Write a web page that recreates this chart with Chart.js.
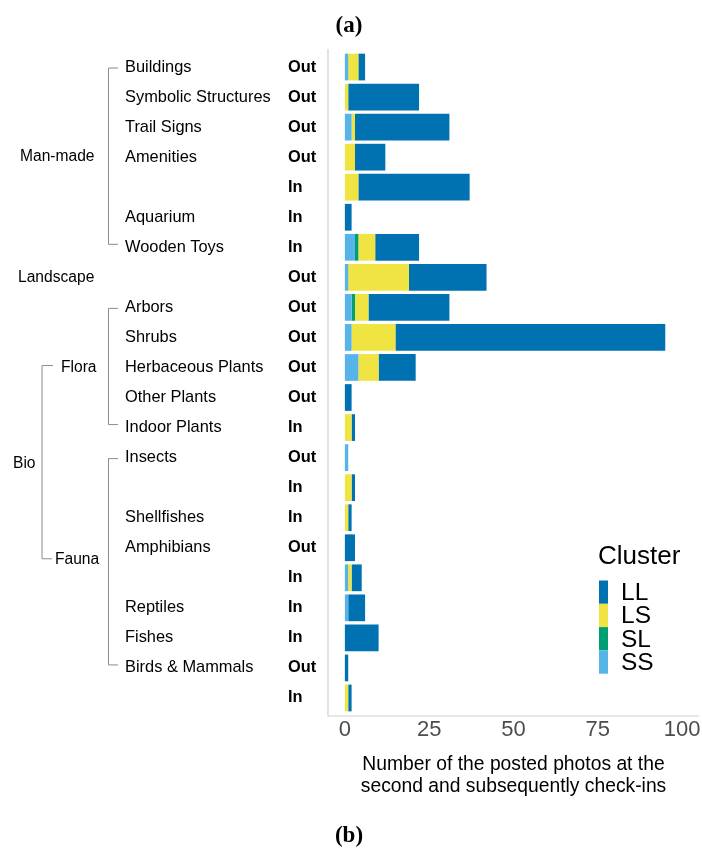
<!DOCTYPE html>
<html>
<head>
<meta charset="utf-8">
<script src="https://cdn.jsdelivr.net/npm/chart.js@4.4.1/dist/chart.umd.min.js"></script>
<style>
  html, body { margin: 0; padding: 0; background: #ffffff; }
  #wrap { position: relative; width: 702px; height: 850px; }
</style>
</head>
<body>
<div id="wrap"><canvas id="chart" width="702" height="850"></canvas></div>
<script>
// Photo subjects, one row per subject / placement pair
const subjects = ["Buildings", "Symbolic Structures", "Trail Signs", "Amenities", "", "Aquarium", "Wooden Toys",
  "", "Arbors", "Shrubs", "Herbaceous Plants", "Other Plants", "Indoor Plants",
  "Insects", "", "Shellfishes", "Amphibians", "", "Reptiles", "Fishes", "Birds & Mammals", ""];
const placement = ["Out", "Out", "Out", "Out", "In", "In", "In", "Out", "Out", "Out", "Out", "Out", "In",
  "Out", "In", "In", "Out", "In", "In", "In", "Out", "In"];
const rowKeys = subjects.map((s, i) => (s || "row" + i) + " " + placement[i]);

// Counts of posted photos per cluster
const ssValues = [1, 0, 2, 0, 0, 0, 3, 1, 2, 2, 4, 0, 0, 1, 0, 0, 0, 1, 1, 0, 0, 0];
const slValues = [0, 0, 0, 0, 0, 0, 1, 0, 1, 0, 0, 0, 0, 0, 0, 0, 0, 0, 0, 0, 0, 0];
const lsValues = [3, 1, 1, 3, 4, 0, 5, 18, 4, 13, 6, 0, 2, 0, 2, 1, 0, 1, 0, 0, 0, 1];
const llValues = [2, 21, 28, 9, 33, 2, 13, 23, 24, 80, 11, 2, 1, 0, 1, 1, 3, 3, 5, 10, 1, 1];

const xTicks = [0, 25, 50, 75, 100];
const legendOrder = ["LL", "LS", "SL", "SS"];

// Group brackets: label, first row, last row
const groups = [
  { label: "Man-made", from: 0, to: 6 },
  { label: "Flora", from: 8, to: 12 },
  { label: "Fauna", from: 13, to: 20 }
];

const colors = { LL: "#0072B2", LS: "#F0E442", SL: "#009E73", SS: "#56B4E9" };
const SANS = "'Liberation Sans', Arial, sans-serif";

const annotate = {
  id: "annotate",
  afterDraw(chart) {
    const { ctx, chartArea: a } = chart;
    const xs = chart.scales.x, ys = chart.scales.y;
    const rowY = i => ys.getPixelForValue(i);
    const step = rowY(1) - rowY(0);
    ctx.save();

    // axis lines
    ctx.strokeStyle = "#d0d0d0";
    ctx.lineWidth = 1.2;
    ctx.beginPath();
    ctx.moveTo(a.left, a.top - 0.1 * step);
    ctx.lineTo(a.left, a.bottom + 0.1 * step);
    ctx.lineTo(a.right, a.bottom + 0.1 * step);
    ctx.stroke();

    // x tick labels
    ctx.fillStyle = "#4d4d4d";
    ctx.font = "22px " + SANS;
    ctx.textAlign = "center";
    ctx.textBaseline = "middle";
    xTicks.forEach(v => ctx.fillText(String(v), xs.getPixelForValue(v), 730));

    // x axis title
    ctx.fillStyle = "#000";
    ctx.font = "19.3px " + SANS;
    const cx = (a.left + a.right) / 2;
    ctx.fillText("Number of the posted photos at the", cx, 765);
    ctx.fillText("second and subsequently check-ins", cx, 787);

    // row labels
    ctx.textAlign = "left";
    subjects.forEach((s, i) => {
      const y = rowY(i);
      ctx.font = "16.4px " + SANS;
      if (s) ctx.fillText(s, 125, y);
      ctx.font = "bold 16.4px " + SANS;
      ctx.fillText(placement[i], 288, y);
    });

    // group labels and brackets
    ctx.font = "15.6px " + SANS;
    ctx.fillText("Man-made", 20, (rowY(3)));
    ctx.fillText("Landscape", 18, rowY(7));
    ctx.fillText("Flora", 61, rowY(10));
    ctx.fillText("Fauna", 55, rowY(16.4));
    ctx.fillText("Bio", 13, rowY(13.2));

    ctx.strokeStyle = "#8c8c8c";
    ctx.lineWidth = 1;
    groups.forEach(g => {
      const y0 = rowY(g.from) + 1, y1 = rowY(g.to) - 3;
      ctx.beginPath();
      ctx.moveTo(118, y0);
      ctx.lineTo(108.5, y0);
      ctx.lineTo(108.5, y1);
      ctx.lineTo(118, y1);
      ctx.stroke();
    });
    // Bio bracket between Flora and Fauna
    const by0 = rowY(10) - 2, by1 = rowY(16.4) - 1;
    ctx.beginPath();
    ctx.moveTo(53, by0);
    ctx.lineTo(42, by0);
    ctx.lineTo(42, by1);
    ctx.lineTo(52, by1);
    ctx.stroke();

    // legend
    ctx.fillStyle = "#000";
    ctx.font = "26px " + SANS;
    ctx.fillText("Cluster", 598, 557);
    const keyH = 23.3;
    legendOrder.forEach((k, i) => {
      const y = 580.5 + i * keyH;
      ctx.fillStyle = colors[k];
      ctx.fillRect(599, y, 9, keyH);
      ctx.fillStyle = "#000";
      ctx.font = "24.5px " + SANS;
      ctx.fillText(k, 621, y + keyH / 2 + 1);
    });

    // panel captions
    ctx.textAlign = "center";
    ctx.font = "bold 23px 'Liberation Serif', 'Times New Roman', serif";
    ctx.fillText("(a)", 349, 26);
    ctx.fillText("(b)", 349, 836);
    ctx.restore();
  }
};

const mk = (label, data) => ({
  label, data, backgroundColor: colors[label], borderWidth: 0,
  barPercentage: 0.89, categoryPercentage: 1.0
});

new Chart(document.getElementById("chart"), {
  type: "bar",
  data: {
    labels: rowKeys,
    datasets: [mk("SS", ssValues), mk("SL", slValues), mk("LS", lsValues), mk("LL", llValues)]
  },
  options: {
    indexAxis: "y",
    responsive: false,
    animation: false,
    layout: { padding: { left: 328, right: 3, top: 52, bottom: 137 } },
    plugins: { legend: { display: false }, tooltip: { enabled: false }, title: { display: false } },
    scales: {
      x: { display: false, stacked: true, min: -5, max: 105 },
      y: { display: false, stacked: true, offset: true }
    }
  },
  plugins: [annotate]
});
</script>
</body>
</html>
